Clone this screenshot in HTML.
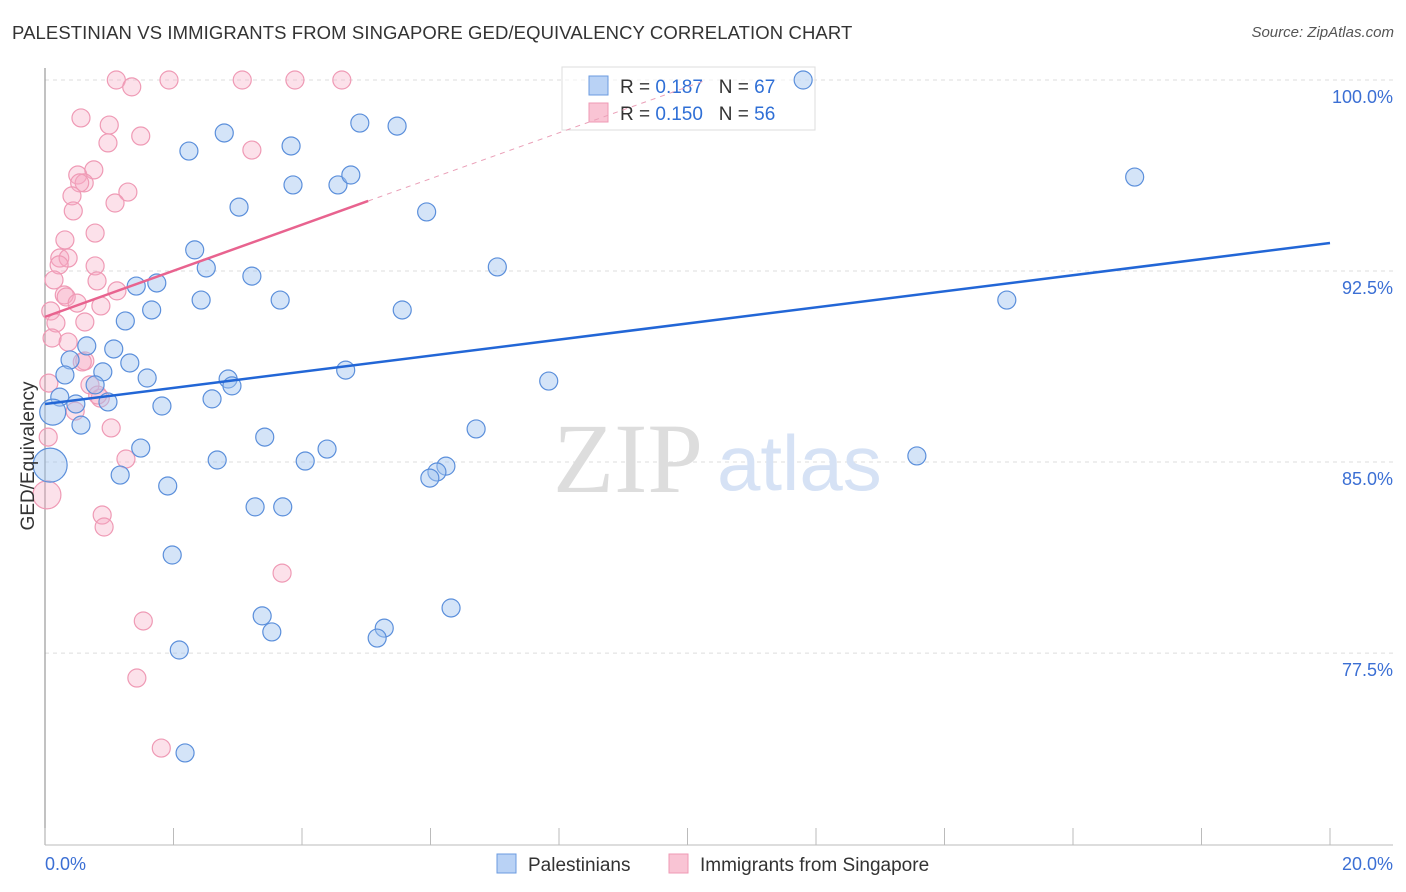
<!DOCTYPE html>
<html><head><meta charset="utf-8">
<style>
body{margin:0;background:#fff;font-family:"Liberation Sans",sans-serif;}
#wrap{position:relative;width:1406px;height:892px;overflow:hidden;}
.title{position:absolute;left:12px;top:22px;font-size:18.5px;color:#333;letter-spacing:0.1px}
.src{position:absolute;right:12px;top:24px;font-size:15px;color:#555;font-style:italic}
</style></head><body>
<div id="wrap">
<div class="title">PALESTINIAN VS IMMIGRANTS FROM SINGAPORE GED/EQUIVALENCY CORRELATION CHART</div>
<div class="src">Source: ZipAtlas.com</div>
<svg id="svg" width="1406" height="892" style="position:absolute;left:0;top:0"></svg>
</div>
<script>
const blueX=[11.80,2.79,2.24,3.83,4.90,5.48,3.86,4.56,4.76,3.02,5.94,16.96,2.33,2.51,3.22,7.04,1.42,1.74,2.43,3.66,1.66,5.56,14.97,1.25,1.07,0.65,0.39,1.32,0.31,0.90,1.59,2.85,2.91,4.68,7.84,0.78,0.23,0.48,0.98,1.82,2.60,0.12,0.08,0.56,3.42,1.49,4.39,6.71,2.68,4.05,13.57,6.24,6.10,5.99,1.17,1.91,3.27,3.70,1.98,3.38,3.53,5.28,5.17,6.32,2.09,2.18];
const blueY=[100.0,97.92,97.21,97.41,98.31,98.19,95.88,95.88,96.27,95.01,94.82,96.19,93.33,92.62,92.30,92.66,91.91,92.03,91.36,91.36,90.97,90.97,91.36,90.54,89.44,89.56,89.01,88.89,88.42,88.54,88.30,88.26,87.99,88.61,88.18,88.03,87.55,87.28,87.36,87.20,87.48,86.96,84.88,86.45,85.98,85.55,85.51,86.30,85.08,85.04,85.24,84.84,84.61,84.37,84.49,84.06,83.24,83.24,81.35,78.96,78.33,78.48,78.09,79.27,77.62,73.58];
const blueBig=[41,42];
const pinkX=[1.11,1.93,3.07,3.89,4.62,1.35,0.56,1.00,0.98,1.49,3.22,0.51,0.76,0.61,0.54,1.29,0.42,1.09,0.44,0.78,0.31,0.23,0.36,0.22,0.78,0.14,0.81,1.12,0.30,0.33,0.50,0.87,0.09,0.17,0.62,0.11,0.36,0.62,0.58,0.06,0.70,0.86,0.82,0.47,1.03,0.05,1.26,0.03,0.89,0.92,3.69,1.53,1.43,1.81];
const pinkY=[100,100,100,100,100,99.73,98.51,98.23,97.53,97.80,97.25,96.27,96.47,95.96,95.96,95.60,95.45,95.17,94.86,93.99,93.72,93.01,93.01,92.74,92.70,92.15,92.11,91.72,91.56,91.48,91.24,91.13,90.93,90.46,90.50,89.87,89.71,88.97,88.93,88.10,88.03,87.51,87.63,87.00,86.34,85.98,85.12,83.71,82.92,82.45,80.64,78.76,76.52,73.77];
const pinkBig=[47];
const yTicks=[100,92.5,85,77.5];
const yTickLabels=["100.0%","92.5%","85.0%","77.5%"];
const blueTrend=[[0,87.28],[20,93.6]];
const pinkTrend=[[0,90.7],[5.03,95.25]];
const pinkDash=[[5.03,95.25],[10.3,100]];

const NS="http://www.w3.org/2000/svg";
const svg=document.getElementById('svg');
const X=v=>45+v*64.25;
const Y=v=>80+(100-v)*25.47;
function mk(t,a,p){const e=document.createElementNS(NS,t);for(const k in a)e.setAttribute(k,a[k]);(p||svg).appendChild(e);return e;}

yTicks.forEach((t,i)=>{
  const g=mk('line',{x1:45,x2:1393,y1:Y(t),y2:Y(t),stroke:'#ddd','stroke-dasharray':'4,4'});
  
  
  const tx=mk('text',{x:1393,y:Y(t)+23,'text-anchor':'end','font-size':18,fill:'#3b6fd4'});
  tx.textContent=yTickLabels[i];
  
  
});
mk('line',{x1:45,x2:45,y1:68,y2:845,stroke:'#999','stroke-width':1.2});
mk('line',{x1:45,x2:1393,y1:845,y2:845,stroke:'#bbb'});
for(let i=0;i<=10;i++){const t=mk('line',{x1:X(i*2),x2:X(i*2),y1:828,y2:845,stroke:'#bbb'});}
const wm=mk('text',{x:553,y:492,'font-size':100,fill:'#ddd','font-family':'Liberation Serif, serif'});wm.textContent='ZIP';

const wm2=mk('text',{x:717,y:490,'font-size':78,fill:'#d6e2f5'});wm2.textContent='atlas';


// legend top (drawn under marks)
const lg=mk('g',{});
mk('rect',{x:562,y:67,width:253,height:63,fill:'rgba(255,255,255,0.6)',stroke:'#ddd'},lg);
mk('rect',{x:589,y:76,width:19,height:19,fill:'#b9d2f5',stroke:'#6b9be0'},lg);
mk('rect',{x:589,y:103,width:19,height:19,fill:'#f9c4d4',stroke:'#ef9ab5'},lg);
[['0.187','67',93],['0.150','56',120]].forEach(r=>{
  let t=mk('text',{x:620,y:r[2],'font-size':19,fill:'#333'},lg);
  t.innerHTML='R = <tspan fill="#2f6fd6">'+r[0]+'</tspan>   N = <tspan fill="#2f6fd6">'+r[1]+'</tspan>';
  t.style.whiteSpace='pre';
});

pinkX.forEach((v,i)=>{
  const c=mk('circle',{cx:X(v),cy:Y(pinkY[i]),r:pinkBig.includes(i)?14:9,fill:'rgba(246,170,195,0.35)',stroke:'#ef9ab5','stroke-width':1.2});
  
  
});
blueX.forEach((v,i)=>{
  const c=mk('circle',{cx:X(v),cy:Y(blueY[i]),r:blueBig.includes(i)?(i==42?17:13):9,fill:'rgba(160,195,240,0.45)',stroke:'#5b8fdb','stroke-width':1.2});
  
  
});
let l=mk('line',{x1:X(blueTrend[0][0]),y1:Y(blueTrend[0][1]),x2:X(blueTrend[1][0]),y2:Y(blueTrend[1][1]),stroke:'#2266d6','stroke-width':2.5});

l=mk('line',{x1:X(pinkTrend[0][0]),y1:Y(pinkTrend[0][1]),x2:X(pinkTrend[1][0]),y2:Y(pinkTrend[1][1]),stroke:'#e8638f','stroke-width':2.5});

l=mk('line',{x1:X(pinkDash[0][0]),y1:Y(pinkDash[0][1]),x2:X(pinkDash[1][0]),y2:Y(pinkDash[1][1]),stroke:'#eaa0b8','stroke-width':1,'stroke-dasharray':'5,5'});


const bl=mk('g',{});
mk('rect',{x:497,y:854,width:19,height:19,fill:'#b9d2f5',stroke:'#6b9be0'},bl);
let t=mk('text',{x:528,y:871,'font-size':19,fill:'#333'},bl);t.textContent='Palestinians';
mk('rect',{x:669,y:854,width:19,height:19,fill:'#f9c4d4',stroke:'#ef9ab5'},bl);
t=mk('text',{x:700,y:871,'font-size':19,fill:'#333'},bl);t.textContent='Immigrants from Singapore';
t=mk('text',{x:45,y:870,'font-size':18,fill:'#3b6fd4'});t.textContent='0.0%';

t=mk('text',{x:1393,y:870,'font-size':18,fill:'#3b6fd4','text-anchor':'end'});t.textContent='20.0%';

t=mk('text',{x:34,y:456,'font-size':19,fill:'#333','text-anchor':'middle',transform:'rotate(-90 34 456)'});t.textContent='GED/Equivalency';

</script>
</body></html>
